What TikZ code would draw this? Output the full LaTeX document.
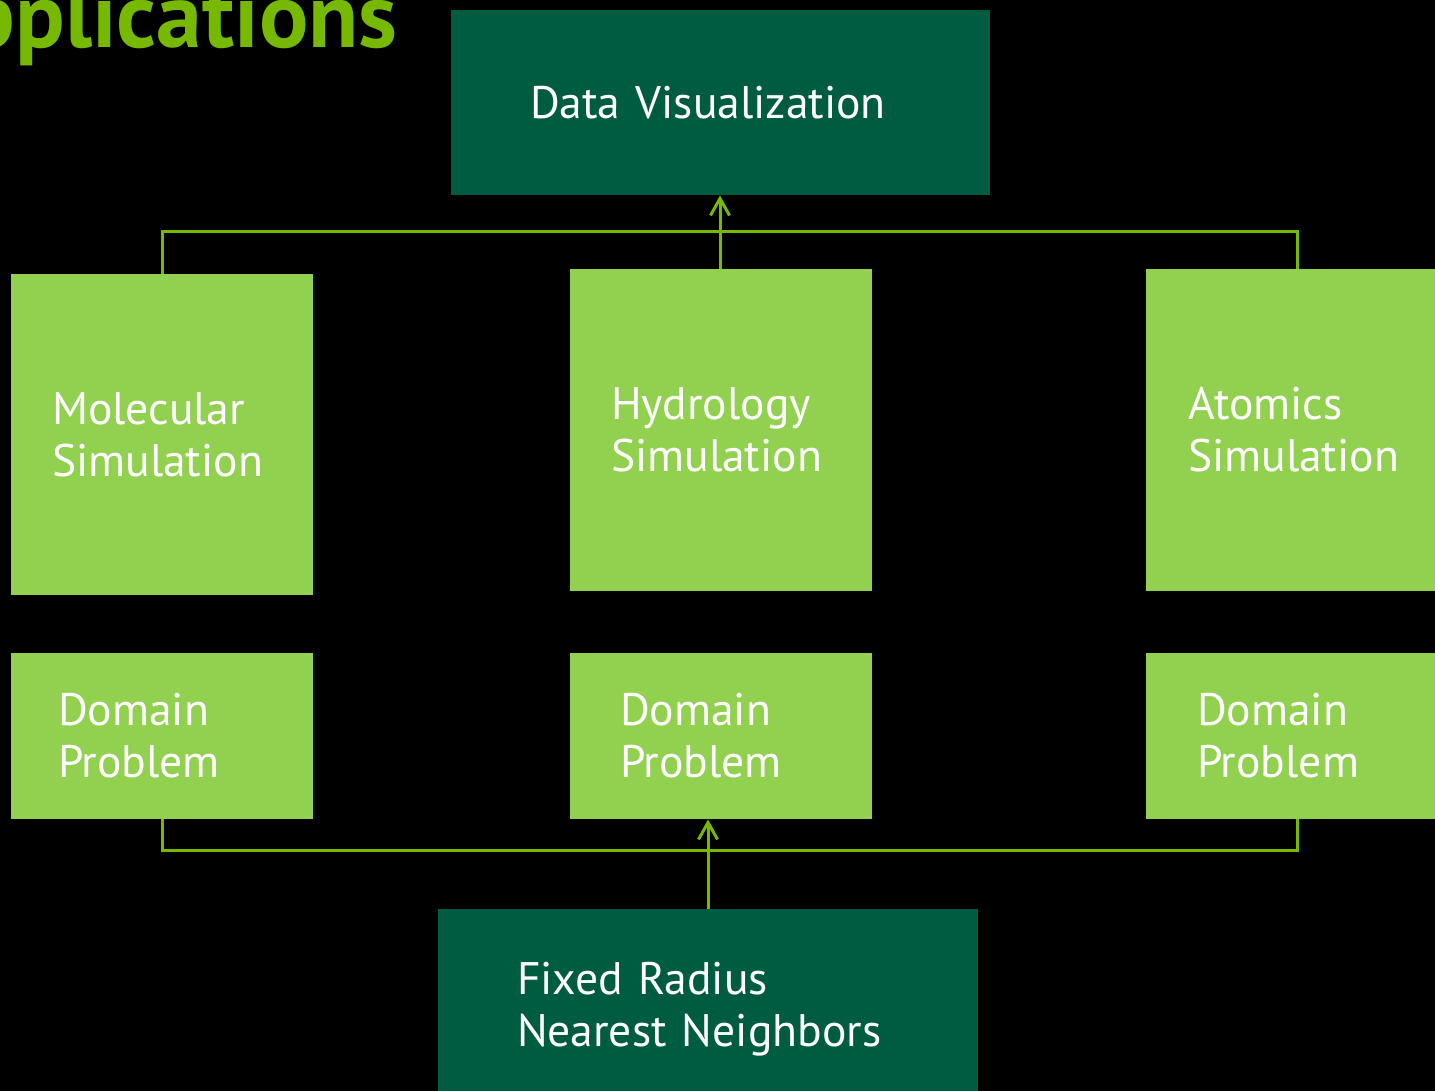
\documentclass[tikz,border=0pt]{standalone}
\usepackage{fontspec}
\setmainfont{PT Sans}
\usetikzlibrary{arrows.meta}
\hyphenpenalty=10000
\exhyphenpenalty=10000
\definecolor{nvgreen}{HTML}{76B900}
\definecolor{lightbox}{HTML}{92D050}
\definecolor{darkbox}{HTML}{005C40}
\tikzset{
  box/.style={fill=lightbox, text=white, align=left, inner ysep=0pt,
    font=\fontsize{22.8pt}{26pt}\selectfont},
  dbox/.style={fill=darkbox, text=white, align=left, inner ysep=0pt,
    font=\fontsize{22.8pt}{26pt}\selectfont},
  conn/.style={draw=nvgreen, line width=1.5pt},
  arr/.style={conn, -{Straight Barb[length=8.5pt,width=9.5pt,line width=1.5pt]}}
}
\begin{document}
\begin{tikzpicture}[x=0.5pt,y=-0.5pt]
\fill[black] (0,0) rectangle (1435,1091);
\useasboundingbox (0,0) rectangle (1435,1091);
\clip (0,0) rectangle (1435,1091);
\node[anchor=base east, text=nvgreen, font=\fontsize{46pt}{50pt}\selectfont\bfseries, inner sep=0pt] (title) at (398,48) {Applications};
% top
\node[dbox, minimum width=269.5pt, minimum height=92.5pt, inner xsep=39.5pt, text width=190.5pt] (dv) at (720.5,102.5) {Data Visualization};
% simulations
\node[box, minimum width=151pt, minimum height=160.5pt, inner xsep=20.5pt, text width=110pt] (mol) at (162,434.5) {Molecular\\Simulation};
\node[box, minimum width=151pt, minimum height=161pt, inner xsep=20.5pt, text width=110pt] (hyd) at (721,430) {Hydrology\\Simulation};
\node[box, minimum width=151pt, minimum height=161pt, inner xsep=21pt, text width=109pt] (atom) at (1297,430) {Atomics\\Simulation};
% domain problems
\node[box, minimum width=151pt, minimum height=83pt, inner xsep=23.5pt, text width=104pt] (dp1) at (162,736) {Domain\\Problem};
\node[box, minimum width=151pt, minimum height=83pt, inner xsep=25pt, text width=101pt] (dp2) at (721,736) {Domain\\Problem};
\node[box, minimum width=151pt, minimum height=83pt, inner xsep=25.5pt, text width=100pt] (dp3) at (1297,736) {Domain\\Problem};
% bottom
\node[dbox, minimum width=270pt, minimum height=100pt, inner xsep=39.5pt, text width=191pt] (frnn) at (708,1009) {Fixed Radius\\Nearest Neighbors};
% connectors
\coordinate (tj) at (720,232);
\coordinate (bj) at (708,850);
\draw[conn] (mol.north) |- (tj) -| (atom.north);
\draw[arr] (hyd.north -| tj) -- (dv.south -| tj);
\draw[conn] (dp1.south) |- (bj) -| (dp3.south);
\draw[arr] (frnn.north) -- (frnn.north |- dp2.south);
\end{tikzpicture}
\end{document}
